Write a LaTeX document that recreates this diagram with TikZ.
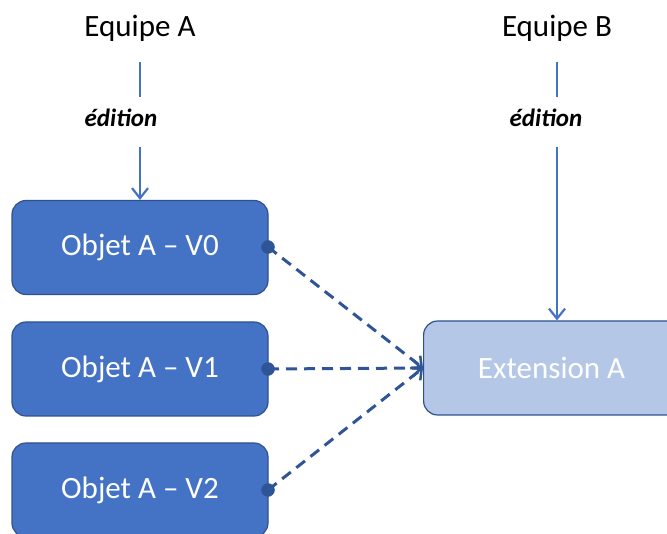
\documentclass[tikz,border=0pt]{standalone}
\usepackage{fontspec}
\setmainfont{Carlito}
\usetikzlibrary{arrows.meta}
\definecolor{mblue}{HTML}{4472C4}
\definecolor{dblue}{HTML}{2F5597}
\definecolor{bord}{HTML}{2F528F}
\definecolor{lblue}{HTML}{B4C7E7}
\begin{document}
\begin{tikzpicture}[x=1pt,y=-1pt,
  obj/.style={draw=bord, line width=1.2pt, fill=mblue, rounded corners=14pt, minimum width=256pt, minimum height=94pt, text=white, font=\fontsize{31}{36}\selectfont, inner sep=0pt},
  ext/.style={obj, fill=lblue, minimum width=300pt},
  team/.style={font=\fontsize{31}{36}\selectfont, inner sep=0pt},
  edit/.style={font=\fontsize{25}{28}\selectfont\bfseries\itshape, inner sep=0pt},
  solid arrow/.style={draw=mblue, line width=2.2pt, -{Straight Barb[length=10pt,width=16pt,line width=2.2pt]}},
  link/.style={draw=dblue, line width=3pt, dash pattern=on 11pt off 7pt, -{Straight Barb[length=8pt,width=16pt,line width=2.5pt]}},
  dot/.style={circle, fill=dblue, draw=dblue, minimum size=13pt, inner sep=0pt}]
\useasboundingbox (0,0) rectangle (667,534);
\node[team] (ta) at (140,28) {Equipe A};
\node[team] (tb) at (557,28) {Equipe B};
\node[edit] (ea) at (121,118) {édition};
\node[edit] (eb) at (546,118) {édition};
\node[obj] (v0) at (140,247.5) {Objet A – V0};
\node[obj] (v1) at (140,369) {Objet A – V1};
\node[obj] (v2) at (140,490) {Objet A – V2};
\node[ext, anchor=west] (ext) at (423,368) {\hspace*{-44pt}Extension A};
\coordinate (a1) at (140,62);
\coordinate (a2) at (140,97);
\coordinate (a3) at (140,147);
\coordinate (b1) at (557,62);
\coordinate (b2) at (557,97);
\coordinate (b3) at (557,147);
\draw[draw=mblue, line width=2.2pt] (a1) -- (a2);
\draw[draw=mblue, line width=2.2pt] (b1) -- (b2);
\draw[solid arrow] (a3) -- (v0.north);
\draw[solid arrow] (b3) -- (b3 |- ext.north);
\node[dot] (d0) at (268,247) {};
\node[dot] (d1) at (268,369) {};
\node[dot] (d2) at (268,490) {};
\draw[link] (d0.center) -- (ext.west);
\draw[link] (d1.center) -- (ext.west);
\draw[link] (d2.center) -- (ext.west);
\end{tikzpicture}
\end{document}
